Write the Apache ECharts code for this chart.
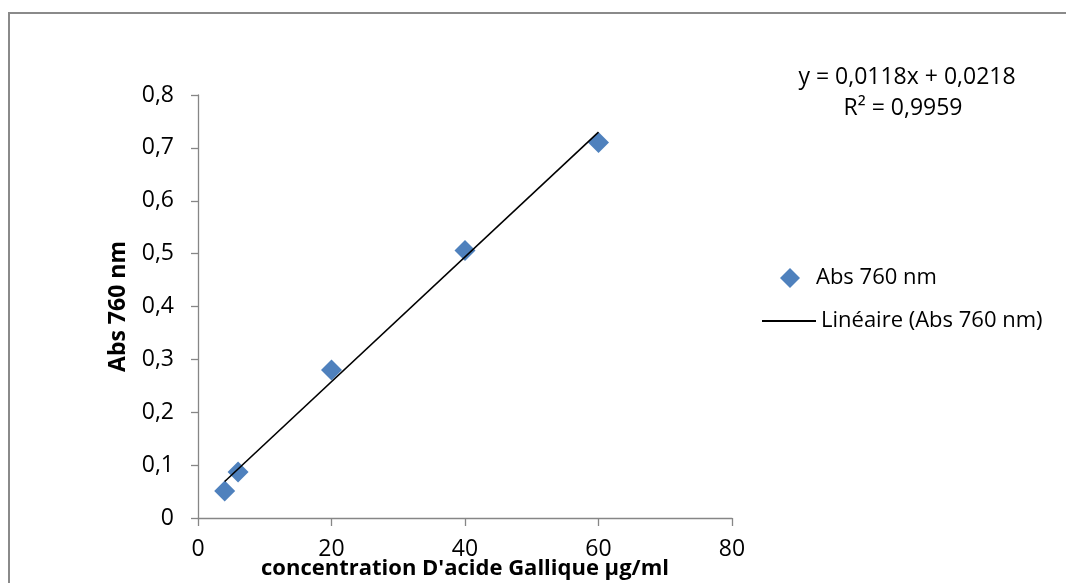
<!DOCTYPE html>
<html>
<head>
<meta charset="utf-8">
<script src="https://cdn.jsdelivr.net/npm/echarts@6/dist/echarts.min.js"></script>
<style>html,body{margin:0;padding:0;background:#fff}#c{width:1066px;height:583px}</style>
</head>
<body>
<div id="c"></div>
<script>
const concentrations = [4, 6, 20, 40, 60];
const absorbances = [0.051, 0.087, 0.280, 0.506, 0.710];
const trendX = [4, 60];
const trendY = [0.069, 0.7298];
const xTicks = [0, 20, 40, 60, 80];
const yTicks = [0, 0.1, 0.2, 0.3, 0.4, 0.5, 0.6, 0.7, 0.8];
const seriesName = 'Abs 760 nm';
const trendName = 'Linéaire (Abs 760 nm)';
const equationText = 'y = 0,0118x + 0,0218';
const r2Text = 'R² = 0,9959';
const xTitle = "concentration D'acide Gallique µg/ml";
const yTitle = 'Abs 760 nm';

const FONT = 'Open Sans';
const chart = echarts.init(document.getElementById('c'));
const fmt = v => String(Math.round(v * 10) / 10).replace('.', ',');

chart.setOption({
  animation: false,
  backgroundColor: '#fff',
  textStyle: { fontFamily: FONT, color: '#000' },
  grid: { left: 198, top: 95, right: 334, bottom: 65, containLabel: false, outerBoundsMode: 'none' },
  xAxis: {
    type: 'value', min: xTicks[0], max: xTicks[xTicks.length - 1], interval: 20,
    name: xTitle, nameLocation: 'middle', nameGap: 40, nameMoveOverlap: false,
    nameTextStyle: { fontFamily: FONT, fontWeight: 'bold', fontSize: 22, color: '#000' },
    axisLine: { show: true, lineStyle: { color: '#868686', width: 1.3 } },
    axisTick: { show: true, length: 8, lineStyle: { color: '#868686', width: 1.3 } },
    axisLabel: { fontFamily: FONT, fontSize: 23, color: '#000', margin: 20 },
    splitLine: { show: false }
  },
  yAxis: {
    type: 'value', min: yTicks[0], max: yTicks[yTicks.length - 1], interval: 0.1,
    name: yTitle, nameLocation: 'middle', nameGap: 68, nameRotate: 90, nameMoveOverlap: false,
    nameTextStyle: { fontFamily: FONT, fontWeight: 'bold', fontSize: 23, color: '#000' },
    axisLine: { show: true, lineStyle: { color: '#868686', width: 1.3 } },
    axisTick: { show: true, length: 7, lineStyle: { color: '#868686', width: 1.3 } },
    axisLabel: { fontFamily: FONT, fontSize: 23, color: '#000', margin: 24, formatter: fmt },
    splitLine: { show: false }
  },
  legend: [
    {
      orient: 'vertical', left: 775, top: 262,
      itemWidth: 20, itemHeight: 20,
      textStyle: { fontFamily: FONT, fontSize: 22, color: '#000', padding: [0, 0, 0, 11] },
      data: [{ name: seriesName, icon: 'diamond' }]
    },
    {
      orient: 'vertical', left: 757, top: 305,
      itemWidth: 54, itemHeight: 2,
      textStyle: { fontFamily: FONT, fontSize: 22, color: '#000' },
      data: [{ name: trendName, icon: 'rect', itemStyle: { color: '#000' } }]
    }
  ],
  graphic: [
    { type: 'rect', silent: true, shape: { x: 9, y: 13, width: 1200, height: 800 },
      style: { fill: 'none', stroke: '#8a8a8a', lineWidth: 2 } },
    { type: 'text', x: 907, y: 77, style: { text: equationText, font: '23px "Open Sans"', fill: '#000', align: 'center', verticalAlign: 'middle' } },
    { type: 'text', x: 903, y: 108, style: { text: r2Text, font: '23px "Open Sans"', fill: '#000', align: 'center', verticalAlign: 'middle' } }
  ],
  series: [
    {
      name: seriesName, type: 'scatter', symbol: 'diamond', symbolSize: 21, symbolKeepAspect: true,
      itemStyle: { color: '#4F81BD', opacity: 1 },
      data: concentrations.map((x, i) => [x, absorbances[i]]),
      z: 3
    },
    {
      name: trendName, type: 'line', symbol: 'none', showSymbol: false,
      lineStyle: { color: '#000', width: 1.6 }, itemStyle: { color: '#000' },
      data: trendX.map((x, i) => [x, trendY[i]]),
      z: 4
    }
  ]
});
</script>
</body>
</html>
